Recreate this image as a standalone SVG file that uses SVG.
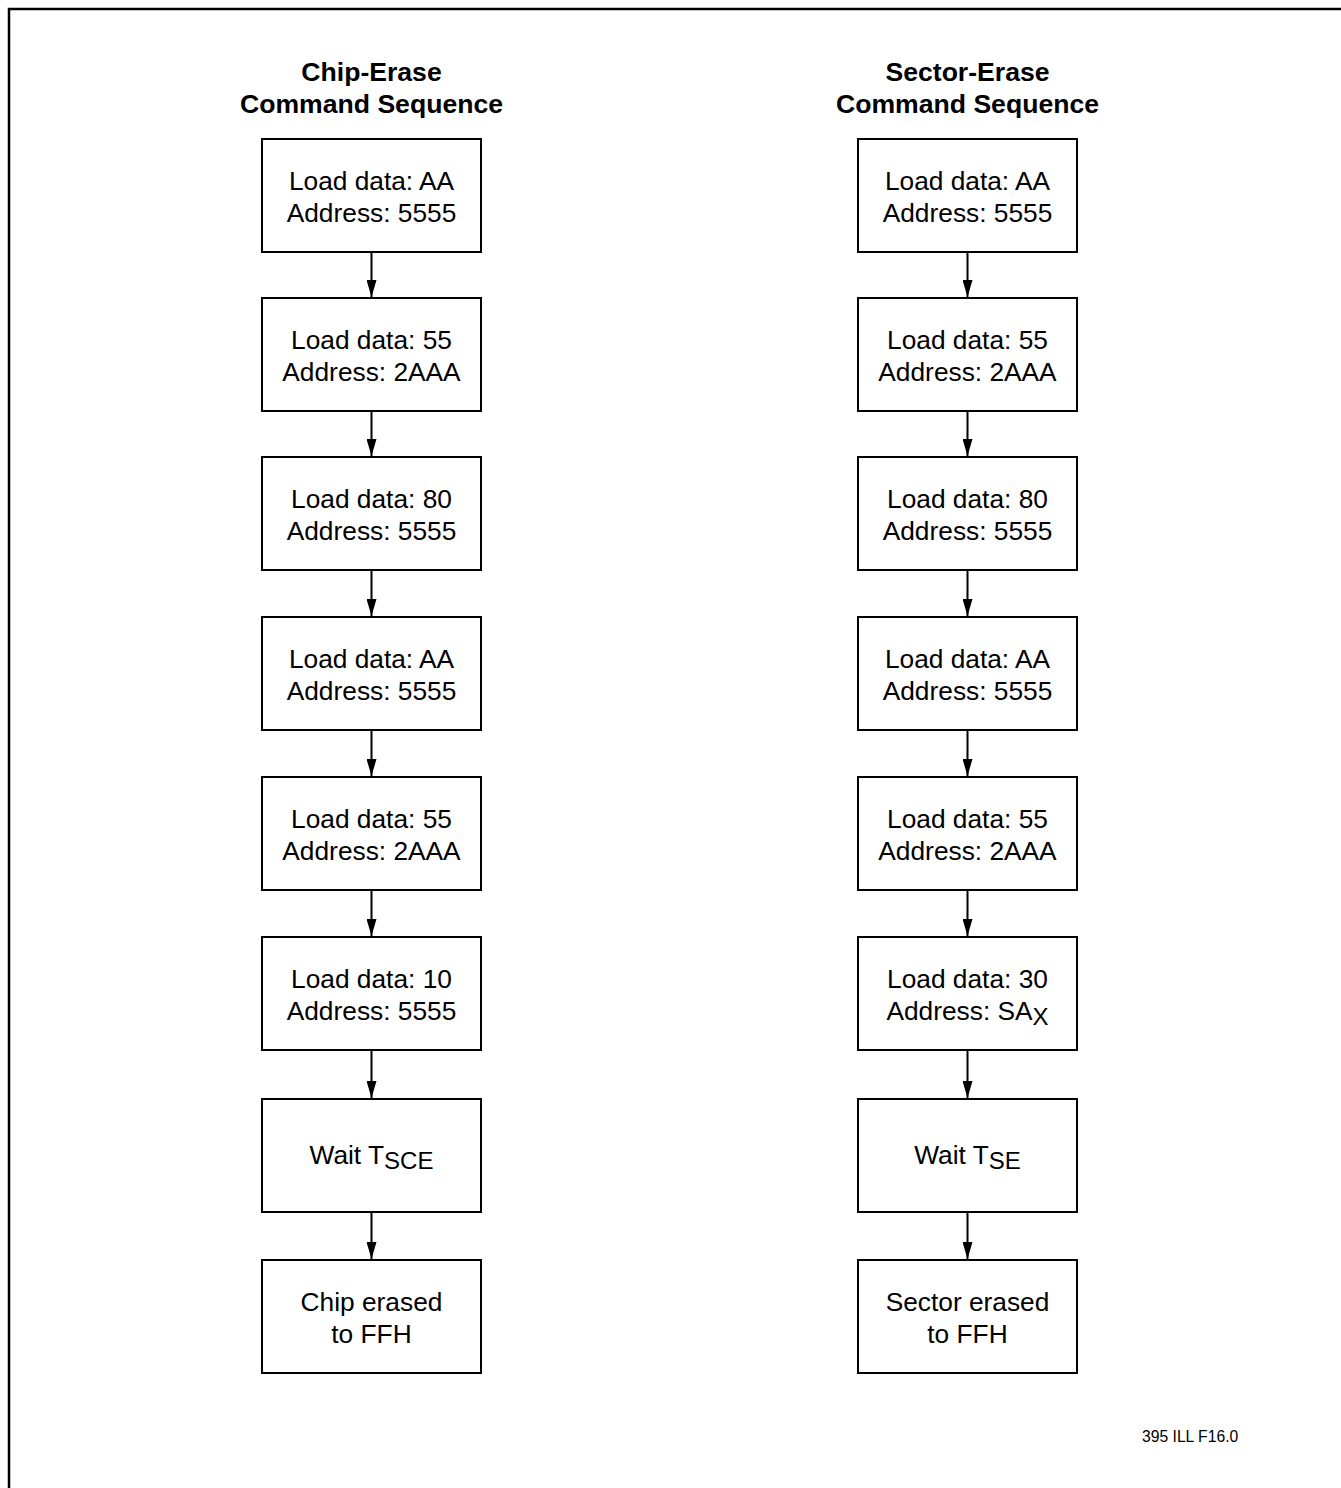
<svg xmlns="http://www.w3.org/2000/svg" width="1341" height="1488" viewBox="0 0 1341 1488">
<style>
.box{fill:#fff;stroke:#000;stroke-width:2}
text{font-family:"Liberation Sans",Arial,sans-serif;font-size:26.3px;fill:#000;text-anchor:middle}
.title{font-weight:bold;font-size:26.6px}
.sub{font-size:24px}
.conn line{stroke:#000;stroke-width:2}
.note{font-size:15.7px;text-anchor:start}
</style>
<defs>
<marker id="ah" markerWidth="17" markerHeight="10" refX="17" refY="5" orient="auto" markerUnits="userSpaceOnUse" viewBox="0 0 17 10">
<path d="M0,0 L17,5 L0,10 Z" fill="#000"/>
</marker>
</defs>
<rect width="1341" height="1488" fill="#fff"/>
<path d="M9,1488 V9 H1341" fill="none" stroke="#000" stroke-width="2.5"/>
<g id="title-chip"><text class="title" x="371.5" y="81">Chip-Erase</text><text class="title" x="371.5" y="113">Command Sequence</text></g>
<g id="title-sector"><text class="title" x="967.5" y="81">Sector-Erase</text><text class="title" x="967.5" y="113">Command Sequence</text></g>

<g id="c1"><rect class="box" x="262" y="139" width="219" height="113"/><text x="371.5" y="190">Load data: AA</text><text x="371.5" y="222">Address: 5555</text></g>
<g id="c2"><rect class="box" x="262" y="298" width="219" height="113"/><text x="371.5" y="349">Load data: 55</text><text x="371.5" y="381">Address: 2AAA</text></g>
<g id="c3"><rect class="box" x="262" y="457" width="219" height="113"/><text x="371.5" y="508">Load data: 80</text><text x="371.5" y="540">Address: 5555</text></g>
<g id="c4"><rect class="box" x="262" y="617" width="219" height="113"/><text x="371.5" y="668">Load data: AA</text><text x="371.5" y="700">Address: 5555</text></g>
<g id="c5"><rect class="box" x="262" y="777" width="219" height="113"/><text x="371.5" y="828">Load data: 55</text><text x="371.5" y="860">Address: 2AAA</text></g>
<g id="c6"><rect class="box" x="262" y="937" width="219" height="113"/><text x="371.5" y="988">Load data: 10</text><text x="371.5" y="1020">Address: 5555</text></g>
<g id="c7"><rect class="box" x="262" y="1099" width="219" height="113"/><text x="371.5" y="1164">Wait T<tspan class="sub" dy="5">SCE</tspan></text></g>
<g id="c8"><rect class="box" x="262" y="1260" width="219" height="113"/><text x="371.5" y="1311">Chip erased</text><text x="371.5" y="1343">to FFH</text></g>

<g id="s1"><rect class="box" x="858" y="139" width="219" height="113"/><text x="967.5" y="190">Load data: AA</text><text x="967.5" y="222">Address: 5555</text></g>
<g id="s2"><rect class="box" x="858" y="298" width="219" height="113"/><text x="967.5" y="349">Load data: 55</text><text x="967.5" y="381">Address: 2AAA</text></g>
<g id="s3"><rect class="box" x="858" y="457" width="219" height="113"/><text x="967.5" y="508">Load data: 80</text><text x="967.5" y="540">Address: 5555</text></g>
<g id="s4"><rect class="box" x="858" y="617" width="219" height="113"/><text x="967.5" y="668">Load data: AA</text><text x="967.5" y="700">Address: 5555</text></g>
<g id="s5"><rect class="box" x="858" y="777" width="219" height="113"/><text x="967.5" y="828">Load data: 55</text><text x="967.5" y="860">Address: 2AAA</text></g>
<g id="s6"><rect class="box" x="858" y="937" width="219" height="113"/><text x="967.5" y="988">Load data: 30</text><text x="967.5" y="1020">Address: SA<tspan class="sub" dy="5">X</tspan></text></g>
<g id="s7"><rect class="box" x="858" y="1099" width="219" height="113"/><text x="967.5" y="1164">Wait T<tspan class="sub" dy="5">SE</tspan></text></g>
<g id="s8"><rect class="box" x="858" y="1260" width="219" height="113"/><text x="967.5" y="1311">Sector erased</text><text x="967.5" y="1343">to FFH</text></g>

<g class="conn" id="connectors">
<line x1="371.5" y1="252" x2="371.5" y2="297" marker-end="url(#ah)"/>
<line x1="371.5" y1="411" x2="371.5" y2="456" marker-end="url(#ah)"/>
<line x1="371.5" y1="570" x2="371.5" y2="616" marker-end="url(#ah)"/>
<line x1="371.5" y1="730" x2="371.5" y2="776" marker-end="url(#ah)"/>
<line x1="371.5" y1="890" x2="371.5" y2="936" marker-end="url(#ah)"/>
<line x1="371.5" y1="1050" x2="371.5" y2="1098" marker-end="url(#ah)"/>
<line x1="371.5" y1="1212" x2="371.5" y2="1259" marker-end="url(#ah)"/>
<line x1="967.5" y1="252" x2="967.5" y2="297" marker-end="url(#ah)"/>
<line x1="967.5" y1="411" x2="967.5" y2="456" marker-end="url(#ah)"/>
<line x1="967.5" y1="570" x2="967.5" y2="616" marker-end="url(#ah)"/>
<line x1="967.5" y1="730" x2="967.5" y2="776" marker-end="url(#ah)"/>
<line x1="967.5" y1="890" x2="967.5" y2="936" marker-end="url(#ah)"/>
<line x1="967.5" y1="1050" x2="967.5" y2="1098" marker-end="url(#ah)"/>
<line x1="967.5" y1="1212" x2="967.5" y2="1259" marker-end="url(#ah)"/>
</g>
<text class="note" x="1142" y="1442">395 ILL F16.0</text>
</svg>
